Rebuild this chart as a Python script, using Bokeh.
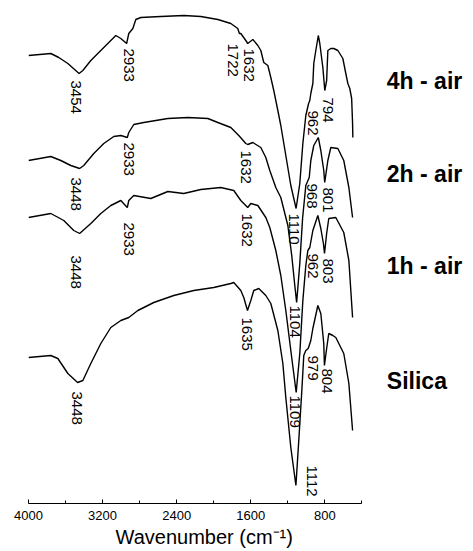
import math
from bokeh.plotting import figure
from bokeh.models import Range1d, FixedTicker, ColumnDataSource, Title
from bokeh.core.properties import value
from bokeh.embed import file_html
from bokeh.resources import INLINE

# ---------------- data (wavenumber in cm-1, intensity in a.u.) ----------------
wn_4h = [4000, 3759, 3673, 3575, 3454, 3413, 3327, 3219, 3111, 3057, 3003, 2940, 2917, 2873,
         2841, 2787, 2571, 2323, 2139, 1955, 1815, 1740, 1722, 1707, 1653, 1632, 1577, 1523,
         1491, 1459, 1415, 1383, 1351, 1307, 1275, 1221, 1167, 1110, 1070, 1037, 1005, 975,
         962, 951, 929, 919, 897, 870, 854, 821, 800, 780, 767, 735, 703, 659, 605, 573, 551,
         530, 510, 500, 497]
i_4h = [448, 450, 446, 440, 430, 433, 443, 453, 463, 468, 465, 460, 470, 475,
        484, 486, 487, 488, 487, 484, 480, 475, 470, 470, 463, 460, 464, 458,
        453, 441, 438, 426, 413, 393, 378, 348, 318, 295, 320, 360, 388, 400,
        403, 410, 420, 440, 453, 468, 460, 436, 413, 423, 453, 455, 455, 453, 445, 430, 420,
        415, 405, 380, 366]

wn_2h = [4000, 3759, 3651, 3543, 3448, 3403, 3295, 3187, 3079, 3003, 2933, 2917, 2863, 2755,
         2495, 2279, 2063, 1955, 1815, 1729, 1653, 1632, 1577, 1491, 1437, 1394, 1329, 1275,
         1199, 1157, 1124, 1104, 1070, 1040, 1005, 968, 951, 919, 870, 843, 811, 801, 767,
         735, 659, 595, 540, 500]
i_2h = [343, 347, 343, 338, 335, 338, 350, 360, 367, 368, 366, 371, 379, 381,
        385, 386, 385, 381, 376, 368, 360, 359, 361, 356, 346, 333, 316, 306,
        278, 248, 218, 201, 240, 285, 318, 326, 343, 358, 366, 353, 333, 321, 343,
        356, 355, 343, 316, 286]

wn_1h = [4000, 3759, 3619, 3511, 3448, 3327, 3219, 3111, 3003, 2933, 2917, 2863, 2679, 2495,
         2323, 2139, 1923, 1783, 1707, 1632, 1599, 1523, 1437, 1394, 1329, 1275, 1221, 1167,
         1109, 1070, 1037, 1005, 983, 962, 929, 875, 843, 815, 803, 780, 757, 681, 595, 540,
         500]
i_1h = [286, 290, 283, 273, 270, 280, 290, 298, 303, 296, 303, 308, 305, 312,
        310, 314, 316, 313, 303, 296, 300, 298, 286, 276, 253, 228, 193, 153,
        111, 150, 203, 238, 253, 256, 273, 288, 275, 260, 250, 270, 285, 286, 271, 243,
        186]

wn_si = [4000, 3759, 3683, 3575, 3470, 3413, 3327, 3219, 3111, 3003, 2917, 2819, 2647, 2431,
         2215, 1999, 1815, 1783, 1707, 1675, 1635, 1599, 1567, 1513, 1437, 1383, 1307, 1253,
         1221, 1167, 1112, 1081, 1048, 1027, 1005, 979, 951, 929, 875, 843, 811, 804, 780,
         757, 713, 681, 595, 540, 500]
i_si = [146, 148, 145, 130, 121, 123, 140, 160, 176, 183, 186, 193, 201, 208,
        213, 216, 220, 221, 213, 206, 193, 203, 213, 215, 208, 200, 173, 140,
        106, 56, 18, 63, 113, 148, 153, 155, 163, 175, 198, 190, 160, 138, 155,
        170, 168, 166, 150, 120, 73]

series_names = ["4h - air", "2h - air", "1h - air", "Silica"]
series_label_y = [423, 330, 238, 123]

# peak annotations: wavenumber, label top (intensity units)
pk_4h = [3454, 2933, 1722, 1632, 1110, 962, 794]
pk_4h_top = [423, 455, 460, 455, 290, 393, 406]
pk_2h = [3448, 2933, 1632, 1104, 968, 801]
pk_2h_top = [326, 361, 353, 198, 320, 316]
pk_1h = [3448, 2933, 1632, 1109, 962, 803]
pk_1h_top = [248, 281, 290, 108, 250, 245]
pk_si = [3448, 1635, 1112, 979, 804]
pk_si_top = [112, 186, 38, 148, 135]

major_ticks = [4000, 3200, 2400, 1600, 800]
minor_ticks = [3600, 2800, 2000, 1200, 400]
x_title = "Wavenumber (cm\u207b\u00b9)"

# ---------------- layout helpers (screen nudges, px) ----------------
nudge_4h = [-3, 1.5, -6.5, 1, -2, 3, 2.5]
nudge_2h = [-4, 1.5, -2, -2, 2.5, 3]
nudge_1h = [-4, 1.5, -1, -1.5, 3, 3]
nudge_si = [-3, 0, 16, 4.5, 3]

W, H = 473, 551
p = figure(width=W, height=H, output_backend="svg", toolbar_location=None,
           x_range=Range1d(4000, -806), y_range=Range1d(0, 495),
           y_axis_location=None, min_border_left=28, min_border_right=0,
           min_border_top=8, min_border_bottom=48)
p.grid.visible = False
p.outline_line_color = None
p.background_fill_color = "white"
p.border_fill_color = "white"

for wn, it in [(wn_4h, i_4h), (wn_2h, i_2h), (wn_1h, i_1h), (wn_si, i_si)]:
    p.line(wn, it, line_color="black", line_width=1.4)

FONT = value("Liberation Sans")
pk_x, pk_y, pk_t, pk_dx = [], [], [], []
for pk, top, nd in [(pk_4h, pk_4h_top, nudge_4h), (pk_2h, pk_2h_top, nudge_2h),
                    (pk_1h, pk_1h_top, nudge_1h), (pk_si, pk_si_top, nudge_si)]:
    pk_x += pk
    pk_y += top
    pk_t += [str(v) for v in pk]
    pk_dx += nd
src = ColumnDataSource(dict(x=pk_x, y=pk_y, t=pk_t, dx=pk_dx))
p.text(x="x", y="y", text="t", x_offset="dx", source=src, angle=-math.pi / 2,
       text_align="left", text_baseline="middle", text_font=FONT,
       text_font_size="15px", text_color="black")

p.text(x=[130] * 4, y=series_label_y, text=series_names, text_align="left",
       text_baseline="middle", text_font=FONT, text_font_size="23px",
       text_font_style="bold", text_color="black")

ax = p.xaxis[0]
ax.ticker = FixedTicker(ticks=major_ticks, minor_ticks=minor_ticks)
ax.bounds = (400, 4000)
ax.axis_line_color = "black"
ax.axis_line_width = 1.2
ax.major_tick_in = 4
ax.major_tick_out = 0
ax.minor_tick_in = 3
ax.minor_tick_out = 0
ax.major_tick_line_color = "black"
ax.minor_tick_line_color = "black"
ax.major_label_text_font = "Liberation Sans"
ax.major_label_text_font_size = "13px"
ax.major_label_text_color = "black"
ax.major_label_standoff = 7

# axis title centred under the axis line (not under the whole frame)
title = Title(text=x_title, align="left", offset=87, standoff=3,
              text_font="Liberation Sans", text_font_size="20px",
              text_font_style="normal", text_color="black")
p.add_layout(title, "below")

open("out.html", "w").write(file_html(p, INLINE))
